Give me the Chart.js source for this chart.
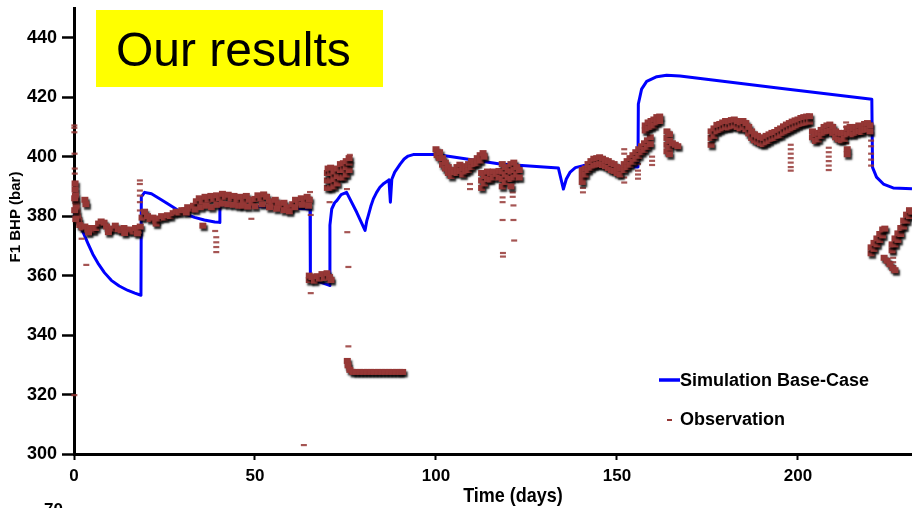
<!DOCTYPE html>
<html>
<head>
<meta charset="utf-8">
<script src="https://cdn.jsdelivr.net/npm/chart.js@4/dist/chart.umd.min.js"></script>
<style>
  html, body { margin: 0; padding: 0; background: #fff; overflow: hidden; }
  #wrap { width: 912px; height: 508px; }
</style>
</head>
<body>
<div id="wrap"><canvas id="c" width="912" height="508"></canvas></div>
<script>
// Simulated bottom-hole pressure of well F1 (base case)
const simDay = [0, 0.8, 1.6, 2.8, 3.9, 5.2, 6.6, 8.4, 10.3, 12.5, 14.9, 16.8, 18.5,
  18.6, 19.5, 21.4, 24, 26, 29.6, 33.3, 36, 38.9, 40.2, 40.3, 41.5, 46, 55, 65.2,
  65.3, 68, 70.6, 70.7, 71.2, 72.0, 72.6, 73.8, 75.3, 78.1, 80.4, 80.9, 81.3, 82.0,
  82.7, 83.6, 84.5, 85.6, 86.8, 87.0, 87.4, 87.8, 88.6, 90.1, 91.2, 92.3, 93.7,
  100.2, 117.7, 133.8, 135.2, 136, 137, 138.5, 140.7, 148, 155.8, 155.9, 156.8,
  158.2, 161, 163.7, 167.4, 195, 220.4, 220.6, 221.7, 223.6, 226.3, 231.5];
const simBar = [381, 379.5, 377.4, 373.8, 370.7, 367.2, 364.2, 361, 358.4, 356.5, 355, 354.1, 353.4,
  386.5, 388, 387.5, 385.6, 384.1, 381.3, 379.6, 378.7, 378, 377.9, 384.7, 383.6, 383.5, 383, 382.4,
  358.4, 357.8, 356.7, 377, 382.4, 384.5, 385.2, 387.2, 388, 381.3, 375.2, 378.5, 380.2, 383.3,
  385.8, 388, 389.7, 391, 392, 392.2, 384.7, 392.4, 394.8, 397.5, 399.2, 400.2, 400.7,
  400.7, 397.5, 396.2, 389.1, 392.5, 394.7, 396.3, 397, 396.7, 396.5, 417.7, 422.7,
  425.3, 426.9, 427.4, 427.1, 423, 419.3, 396.4, 393.1, 390.8, 389.5, 389.2];

// Observed pressure, [day, bar], grouped by period
const obsStart = [[0.3,391],[0.3,389],[0.4,387],[0.5,385],[0.6,383],[0.8,381],[1.0,379.5],[1.3,378.5],
  [0.2,386],[0.2,382],[0.5,379],[1.6,377],[2.3,376.2],[3.0,376.5],[3.8,375.5],[4.5,376],[5.3,375.2],
  [6.0,376],[6.8,377.5],[7.5,378.2],[8.3,377.8],[9.0,376.5],[9.8,375.5],[10.6,375.8],[11.4,376.8],
  [12.2,375.6],[13.0,375.2],[13.8,376],[14.6,375],[15.4,375.5],[16.2,374.8],[17.0,376],[17.8,375],
  [18.3,376.5],[3.0,385.5],[3.3,384],[4.0,374.5],[9.5,374.6],[14.0,374.3],[17.5,374.2]];
const obsRise = [[18.8,379.5],[19.5,381.5],[20.3,380],[21.0,379],[21.8,379.5],[22.6,378.5],[22.7,377.5],
  [23.4,379.2],[24.2,380],[25.0,379.5],[25.8,380.3],[26.6,380],[27.4,381],[28.2,381.5],[29.0,381.2],
  [29.8,382],[30.6,382],[31.4,383],[32.2,382.5],[33.0,383.5],[33.8,385],[34.6,386],[35.4,385],
  [36.2,386.5],[37.0,385.5],[37.8,386.8],[38.6,385.8],[39.4,387],[40.2,386],[41.0,387.5],[41.8,386.5],
  [42.6,387.2],[43.4,386],[44.2,386.8],[45.0,385.5],[31.0,381.2],[33.5,382.2],[35.0,383],[36.5,383.5],
  [38.0,383],[39.5,383.8],[41.0,384.2],[42.5,384],[44.0,383.8],[45.5,383.5],[35.6,376.8]];
const obsPlateau = [[46.0,386.5],[46.8,385],[47.6,386.8],[48.4,385.5],[49.2,384.5],[50.0,385.8],
  [50.8,387],[51.6,386],[52.4,387.3],[53.2,386.5],[54.0,385],[54.8,384.2],[55.6,385.5],[56.4,384.3],
  [57.2,383.5],[58.0,384.5],[58.8,383],[59.6,382.5],[60.4,384],[61.2,385.5],[62.0,384.5],[62.8,386],
  [63.6,385.5],[64.4,386.5],[65.0,385.5],[46.5,383.5],[48.0,383.2],[50.0,383.3],[52.0,384],[54.0,383],
  [56.0,382.5],[58.0,382],[59.5,381.6],[61.0,383],[63.0,383.8],[64.8,383.5]];
const obsShutIn = [[65.0,358.5],[65.0,360],[65.7,359.5],[66.4,358.3],[67.1,359.8],[67.8,359],[68.5,360.5],
  [69.2,359.2],[69.9,360.8],[70.6,359.5],[71.0,358.5],
  [70.0,389.5],[70.0,392],[70.0,394.5],[70.2,396],[70.9,389.5],[70.9,392],[70.9,394.5],[70.9,396.3],
  [71.8,390],[71.8,392.5],[71.8,395],[72.7,391],[72.7,393.5],[72.7,396],[73.6,393],[73.6,395.5],
  [73.6,397.5],[74.4,393],[74.4,395.5],[74.4,397.8],[75.2,394],[75.2,396.5],[75.2,398.5],[76.0,395.5],
  [76.0,398],[76.0,399.5],
  [75.5,331.3],[75.7,329.8],[76.2,328.3],[77,327.6],[78,327.6],[79,327.6],[80,327.6],[81,327.6],
  [82,327.6],[83,327.6],[84,327.6],[85,327.6],[86,327.6],[87,327.6],[88,327.6],[89,327.6],[90,327.6],
  [90.8,327.6]];
const obsMid = [[100.0,402.5],[100.3,400.5],[101.0,401.5],[101.0,399.5],[101.8,399.5],[101.8,397.3],
  [102.6,398],[102.6,396],[103.4,396.5],[103.4,394.5],[104.2,395.5],[104.2,393.5],[105.0,394.8],
  [105.8,396.5],[105.8,394.5],[106.6,397.3],[106.6,395.2],[107.4,396],[107.4,394],[108.2,396.8],
  [108.2,395],[109.0,397.5],[109.0,395.5],[109.8,398.5],[109.8,396.5],[110.6,397.5],[111.4,399.5],
  [111.4,397.8],[112.2,400.5],[112.2,398.7],[113.0,401.2],[113.3,400],
  [112.6,394.5],[112.6,392],[112.6,389.5],[113.4,393.5],[113.4,391],[114.2,395],[114.2,392.5],
  [115.0,394.5],[115.0,392.3],[115.8,395],[115.8,393],[116.6,394.2],[117.4,395.2],[117.4,393],
  [118.3,397.5],[118.3,395],[118.3,392.5],[118.3,390],[119.1,396.5],[119.1,394],[119.1,391.5],
  [119.9,395.5],[119.9,393],[120.7,397.5],[120.7,395],[120.7,392.5],[120.7,390],[121.5,398],
  [121.5,395.5],[121.5,393],[122.3,396.5],[122.3,394],[123.0,395.5],[123.0,393]];
const obsLate = [[140.4,395.5],[140.4,393.5],[140.4,391.5],[141.2,396],[141.2,394],[142.0,397.5],
  [142.0,395.5],[142.8,398.5],[142.8,396.3],[143.6,399.3],[143.6,397],[144.4,399.5],[144.4,397.3],
  [145.2,399.8],[145.2,397.5],[146.0,399.3],[146.0,397.2],[146.8,398.8],[146.8,396.8],[147.6,398.5],
  [147.6,396.2],[148.4,397.8],[148.4,395.5],[149.2,397.5],[149.2,395.2],[150.0,396.5],[150.0,394.5],
  [150.8,396],[150.8,394],
  [152.0,397.5],[152.0,395.5],[152.8,398.5],[152.8,396.5],[153.6,399.5],[153.6,397.3],[154.4,400.5],
  [154.4,398.3],[155.2,401.5],[155.2,399.3],[156.0,402.5],[156.0,400.3],[156.8,403.5],[156.8,401.5],
  [157.6,404.5],[157.6,402.3],[158.4,405.5],[158.4,403.3],[159.2,406.5],[159.2,404.2],
  [157.8,410.5],[157.8,408.8],[158.6,411.5],[158.6,409.5],[159.4,412],[159.4,410],[160.2,412.5],
  [160.2,410.5],[161.0,413.3],[161.0,411.5],[161.8,413.5],[161.8,412],
  [163.8,408.5],[163.8,406.3],[163.8,404],[163.8,401.8],[164.5,407.5],[164.5,405.3],[164.5,403],
  [164.5,400.8],[165.3,404.5],[166.1,404],[166.8,403.5]];
const obsPeak = [[176.0,404],[176.0,406.3],[176.0,408.5],[176.8,407],[176.8,409.5],[177.6,408.5],
  [177.6,410.7],[178.4,409],[178.4,411],[179.2,409.5],[179.2,411.5],[180.0,410],[180.0,412],
  [180.8,409.8],[180.8,411.8],[181.6,410.2],[181.6,412.3],[182.4,410.5],[182.4,412.5],[183.2,410],
  [183.2,412],[184.0,409.5],[184.0,411.5],[184.8,410],[184.8,412],[185.6,409.2],[185.6,411.3],
  [186.4,407.8],[186.4,410],[187.2,406.3],[187.2,408.5],[188.0,405.5],[188.0,407.5],[188.8,405],
  [188.8,407],[189.6,404.5],[189.6,406.5],[190.4,404.2],[190.4,406.3],[191.2,404.8],[191.2,407],
  [192.0,405.3],[192.0,407.5],[192.8,406],[192.8,408],[193.6,406.3],[193.6,408.3],[194.4,407],
  [194.4,409],[195.2,407.2],[195.2,409.5],[196.0,408],[196.0,410.2],[196.8,408.5],[196.8,410.8],
  [197.6,409],[197.6,411.3],[198.4,409.5],[198.4,411.8],[199.2,410],[199.2,412.2],[200.0,410.5],
  [200.0,412.5],[200.8,411],[200.8,413],[201.6,411.3],[201.6,413.3],[202.4,411.5],[202.4,413.5],
  [203.2,411.8],[203.2,413.6],
  [204.0,408.5],[204.0,406.5],[204.8,407.5],[204.8,405.3],[205.6,408],[205.6,405.8],[206.4,409],
  [206.4,407],[207.2,410],[207.2,408],[208.0,410.5],[208.0,408.5],[208.8,410.8],[208.8,408.7],
  [209.6,410],[209.6,408],[210.4,408.5],[210.4,406.5],[211.2,408],[211.2,405.8],[212.0,407.8],
  [212.0,405.5],[212.8,408],[212.8,406],[213.6,409.5],[213.6,407.5],[214.4,410],[214.4,408],
  [215.2,409.5],[215.2,407.5],[216.0,410],[216.0,408],[216.8,410.5],[216.8,408.5],[217.6,410.3],
  [217.6,408.3],[218.4,411],[218.4,409],[219.2,411.3],[219.2,409.2],[219.9,410.5],[219.9,408.5],
  [213.6,402.5],[213.6,400.8]];
const obsTail = [[220.2,367.5],[220.2,369.5],[221.0,369],[221.0,371],[221.8,370.5],[221.8,372.5],
  [222.6,372],[222.6,374],[223.4,373.5],[223.4,375.5],[224.0,375.8],
  [223.8,366],[224.6,365],[225.4,363.8],[226.2,362.5],[226.8,361.8],
  [226.0,368.5],[226.0,370.5],[226.8,370.5],[226.8,372.5],[227.6,372],[227.6,374.2],[228.4,374],
  [228.4,376],[229.2,376.5],[229.2,378.5],[230.0,378.5],[230.0,380.5],[230.8,380],[230.8,382],
  [231.4,381.5]];
// Isolated readings
const obsSpots = [[0.1,410.5],[0.1,409.7],[0.1,408.2],[0.15,401],[0.2,396],[0.2,394.3],[0.1,319.8],
  [2.1,372.4],[3.4,363.6],[18.2,392],[18.2,390.8],[18.2,388.6],[18.2,386.9],[18.2,384.7],[18.2,381.9],
  [39.3,372.9],[39.3,371.2],[39.3,369.6],[39.3,367.9],[39.0,375],[49.0,379.1],[65.2,388.1],
  [65.4,380.4],[65.4,354.1],[63.5,303],[70.6,384.7],[75.5,374.6],[75.8,362.9],[75.8,336.2],
  [76.2,400.6],[75.4,389.1],[109.4,390.8],[109.4,389.1],[118.4,386.3],[118.4,384.7],[118.4,378.7],
  [121.4,378.7],[121.4,383.6],[121.6,371.8],[118.5,367.6],[118.5,366.4],[121.2,388],[121.2,386.5],
  [140.6,389.5],[140.6,388],[152.0,402.5],[152.0,401],[152.0,393],[152.0,391.3],[155.8,400.8],
  [155.8,399.2],[155.8,397.5],[155.8,395.3],[155.8,394],[155.8,392.6],[159.7,400],[159.7,398.6],
  [159.7,397.2],[198.0,404],[198.0,402.5],[198.0,401],[198.0,399.5],[198.0,398],[198.0,396.5],
  [198.0,395.3],[208.5,403],[208.5,401.5],[208.5,400],[208.5,398.5],[208.5,397],[208.5,395.5],
  [213.3,411.5],[213.3,410],[213.3,406],[213.3,404.5],[220.2,405.4],[220.2,403.5],[220.2,401],
  [220.2,399],[220.2,397],[226.3,367.5],[226.3,366],[226.3,364.5],[226.3,363.2]];

const xTicks = [0, 50, 100, 150, 200];
const yTicks = [300, 320, 340, 360, 380, 400, 420, 440];

const simLabel = 'Simulation Base-Case';
const obsLabel = 'Observation';
const xTitle = 'Time (days)';
const yTitle = 'F1 BHP (bar)';
const badgeText = 'Our results';

const BLUE = '#0000ff';
const BROWN = '#953735';
const FONT = "'Liberation Sans', Arial, sans-serif";

const toXY = pairs => pairs.map(p => ({ x: p[0], y: p[1] }));
const obsDense = [].concat(obsStart, obsRise, obsPlateau, obsShutIn, obsMid, obsLate, obsPeak, obsTail);

// Drop shadow under observation markers
const markerShadow = {
  id: 'markerShadow',
  beforeDatasetDraw(chart, args) {
    const ds = chart.data.datasets[args.index];
    if (!ds.shadow) return;
    const ctx = chart.ctx;
    ctx.save();
    ctx.shadowColor = 'rgba(0,0,0,0.85)';
    ctx.shadowBlur = 2;
    ctx.shadowOffsetX = 1.5;
    ctx.shadowOffsetY = 2.5;
  },
  afterDatasetDraw(chart, args) {
    const ds = chart.data.datasets[args.index];
    if (!ds.shadow) return;
    chart.ctx.restore();
  }
};

// Axis captions, legend and the badge
const decorations = {
  id: 'decorations',
  afterDraw(chart) {
    const ctx = chart.ctx;
    ctx.save();
    ctx.fillStyle = '#000';

    ctx.save();
    ctx.translate(513, 496);
    ctx.scale(1, 1.15);
    ctx.font = 'bold 18px ' + FONT;
    ctx.textAlign = 'center';
    ctx.textBaseline = 'middle';
    ctx.fillText(xTitle, 0, 0);
    ctx.restore();

    ctx.save();
    ctx.translate(16, 217);
    ctx.rotate(-Math.PI / 2);
    ctx.font = 'bold 15px ' + FONT;
    ctx.textAlign = 'center';
    ctx.textBaseline = 'middle';
    ctx.fillText(yTitle, 0, 0);
    ctx.restore();

    ctx.font = 'bold 17px ' + FONT;
    ctx.textAlign = 'left';
    ctx.textBaseline = 'alphabetic';
    ctx.fillText('70', 44, 515);

    // legend
    ctx.strokeStyle = BLUE;
    ctx.lineWidth = 3.5;
    ctx.beginPath(); ctx.moveTo(659, 380); ctx.lineTo(680, 380); ctx.stroke();
    ctx.strokeStyle = BROWN;
    ctx.lineWidth = 2;
    ctx.beginPath(); ctx.moveTo(667, 420); ctx.lineTo(672, 420); ctx.stroke();
    ctx.font = 'bold 18px ' + FONT;
    ctx.textBaseline = 'middle';
    ctx.fillStyle = '#000';
    ctx.fillText(simLabel, 680, 381);
    ctx.fillText(obsLabel, 680, 420);

    // badge
    ctx.fillStyle = '#ffff00';
    ctx.fillRect(96, 10, 287, 77);
    ctx.fillStyle = '#000';
    ctx.font = '48px ' + FONT;
    ctx.textBaseline = 'alphabetic';
    ctx.fillText(badgeText, 116, 66);
    ctx.restore();
  }
};

new Chart(document.getElementById('c'), {
  type: 'scatter',
  data: {
    datasets: [
      {
        label: simLabel,
        data: simDay.map((d, i) => ({ x: d, y: simBar[i] })),
        showLine: true,
        borderColor: BLUE,
        borderWidth: 3,
        borderJoinStyle: 'round',
        pointRadius: 0,
        tension: 0,
        clip: false,
        order: 3
      },
      {
        label: obsLabel,
        data: toXY(obsSpots),
        pointStyle: 'line',
        pointRadius: 3,
        pointBorderWidth: 2.2,
        borderColor: 'rgba(149,55,53,0.85)',
        backgroundColor: BROWN,
        clip: false,
        order: 2
      },
      {
        label: obsLabel,
        data: toXY(obsDense),
        pointStyle: 'line',
        pointRadius: 3.5,
        pointBorderWidth: 6,
        borderColor: BROWN,
        backgroundColor: BROWN,
        shadow: true,
        clip: false,
        order: 1
      }
    ]
  },
  options: {
    responsive: false,
    animation: false,
    devicePixelRatio: 1,
    layout: { autoPadding: false, padding: { top: 8, left: 0, right: 0, bottom: 0 } },
    plugins: { legend: { display: false }, tooltip: { enabled: false } },
    scales: {
      x: {
        type: 'linear',
        min: 0,
        max: 231.5,
        afterBuildTicks: s => { s.ticks = xTicks.map(v => ({ value: v })); },
        afterFit: s => { s.height = 54; s.paddingLeft = 0; s.paddingRight = 0; },
        ticks: { color: '#000', padding: 6, font: { family: FONT, size: 17, weight: 'bold' } },
        grid: { drawOnChartArea: false, drawTicks: true, tickLength: 6, tickWidth: 2, tickColor: '#000' },
        border: { display: true, color: '#000', width: 3 }
      },
      y: {
        type: 'linear',
        min: 300,
        max: 450,
        afterBuildTicks: s => { s.ticks = yTicks.map(v => ({ value: v })); },
        afterFit: s => { s.width = 74; s.paddingTop = 0; s.paddingBottom = 0; },
        ticks: { color: '#000', padding: 5, font: { family: FONT, size: 18, weight: 'bold' } },
        grid: { drawOnChartArea: false, drawTicks: true, tickLength: 12, tickWidth: 2.5, tickColor: '#000' },
        border: { display: true, color: '#000', width: 3 }
      }
    }
  },
  plugins: [markerShadow, decorations]
});
</script>
</body>
</html>
